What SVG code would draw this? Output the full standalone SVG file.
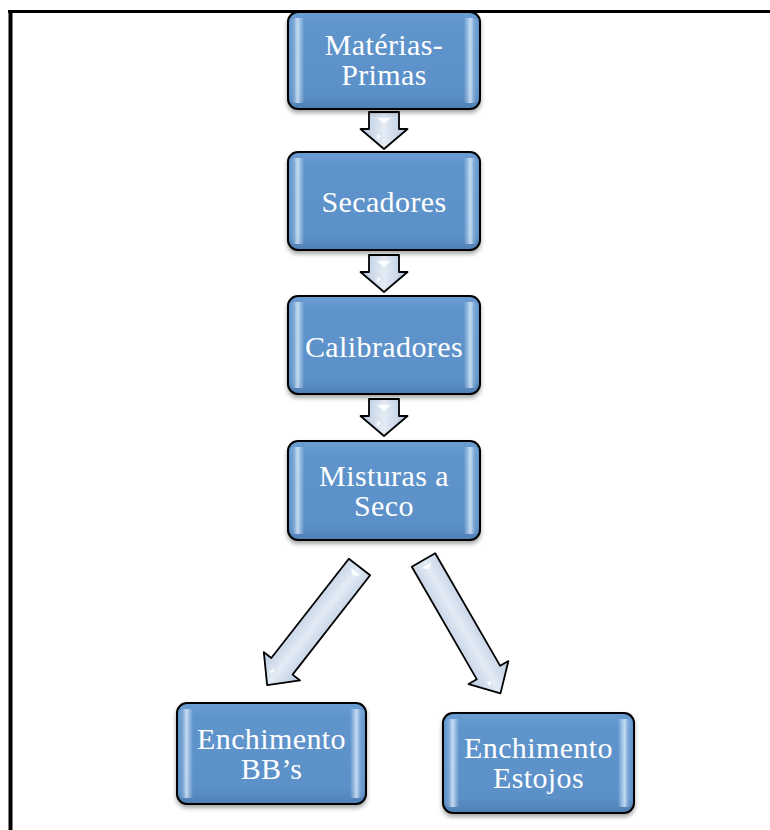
<svg xmlns="http://www.w3.org/2000/svg" width="770" height="830" viewBox="0 0 770 830">
  <style>
    .box { stroke: #000; stroke-width: 2; filter: url(#shadow); }
    .box-fill { fill: url(#boxBlue); }
    .gloss { fill: url(#boxGloss); stroke: none; }
    .label { font-family: "Liberation Serif", "Times New Roman", serif; font-size: 30px; letter-spacing: 0.4px; fill: #fff; text-anchor: middle; }
    .arrow { fill: url(#arrowFill); stroke: #000; stroke-width: 1.8; stroke-linejoin: round; }
    .spark { fill: #fff; opacity: 0.85; }
    .frame { stroke: #000; fill: none; }
  </style>
  <defs>
    <linearGradient id="boxBlue" x1="0" y1="0" x2="0" y2="1">
      <stop offset="0" stop-color="#6a9dd2"/>
      <stop offset="0.15" stop-color="#5f95cc"/>
      <stop offset="0.85" stop-color="#5b90c8"/>
      <stop offset="1" stop-color="#4f7fb4"/>
    </linearGradient>
    <linearGradient id="boxGloss" x1="0" y1="0" x2="1" y2="0">
      <stop offset="0" stop-color="#e6f2ff" stop-opacity="0"/>
      <stop offset="0.025" stop-color="#e6f2ff" stop-opacity="0.2"/>
      <stop offset="0.045" stop-color="#e6f2ff" stop-opacity="0.75"/>
      <stop offset="0.08" stop-color="#e6f2ff" stop-opacity="0"/>
      <stop offset="0.92" stop-color="#e6f2ff" stop-opacity="0"/>
      <stop offset="0.955" stop-color="#e6f2ff" stop-opacity="0.75"/>
      <stop offset="0.975" stop-color="#e6f2ff" stop-opacity="0.2"/>
      <stop offset="1" stop-color="#e6f2ff" stop-opacity="0"/>
    </linearGradient>
    <linearGradient id="arrowFill" x1="0" y1="0" x2="1" y2="0">
      <stop offset="0" stop-color="#b7c8df"/>
      <stop offset="0.5" stop-color="#e3ebf5"/>
      <stop offset="1" stop-color="#b7c8df"/>
    </linearGradient>
    <filter id="shadow" x="-10%" y="-10%" width="120%" height="130%">
      <feDropShadow dx="0" dy="3" stdDeviation="2" flood-color="#000" flood-opacity="0.35"/>
    </filter>
  </defs>

  <!-- page frame (top and left edges) -->
  <line class="frame" x1="8" y1="11.5" x2="770" y2="11.5" stroke-width="3"/>
  <line class="frame" x1="10.5" y1="10" x2="10.5" y2="830" stroke-width="4"/>

  <!-- connectors -->
  <g id="connectors">
    <g transform="translate(384,112)">
      <polygon class="arrow" points="-15,0 15,0 15,17 23.5,17 0,37 -23.5,17 -15,17"/>
      <polygon class="spark" points="-7,6 7,6 0,12"/>
      <polygon class="spark" points="-7,22 -7,28 -3,24"/>
    </g>
    <g transform="translate(384,255)">
      <polygon class="arrow" points="-15,0 15,0 15,17 23.5,17 0,37 -23.5,17 -15,17"/>
      <polygon class="spark" points="-7,6 7,6 0,12"/>
      <polygon class="spark" points="-7,22 -7,28 -3,24"/>
    </g>
    <g transform="translate(384,399)">
      <polygon class="arrow" points="-15,0 15,0 15,17 23.5,17 0,37 -23.5,17 -15,17"/>
      <polygon class="spark" points="-7,6 7,6 0,12"/>
      <polygon class="spark" points="-7,22 -7,28 -3,24"/>
    </g>
    <g transform="translate(359.5,567) rotate(38)">
      <polygon class="arrow" points="-13.5,0 13.5,0 13.5,126 23,126 0,150 -23,126 -13.5,126"/>
      <polygon class="spark" points="-6,6 6,6 0,11"/>
      <polygon class="spark" points="-6,133 -6,139 -2,135"/>
    </g>
    <g transform="translate(423.5,560) rotate(-30)">
      <polygon class="arrow" points="-13.5,0 13.5,0 13.5,130 23,130 0,154 -23,130 -13.5,130"/>
      <polygon class="spark" points="-6,6 6,6 0,11"/>
      <polygon class="spark" points="-6,137 -6,143 -2,139"/>
    </g>
  </g>

  <!-- process steps -->
  <g id="materias-primas">
    <rect class="box box-fill" x="288" y="12" width="192" height="97" rx="10"/>
    <rect class="gloss" x="289" y="18" width="190" height="85" rx="6"/>
    <text class="label" x="384" y="55">Matérias-</text>
    <text class="label" x="384" y="85">Primas</text>
  </g>

  <g id="secadores">
    <rect class="box box-fill" x="288" y="152" width="192" height="98" rx="10"/>
    <rect class="gloss" x="289" y="158" width="190" height="86" rx="6"/>
    <text class="label" x="384" y="212">Secadores</text>
  </g>

  <g id="calibradores">
    <rect class="box box-fill" x="288" y="296" width="192" height="98" rx="10"/>
    <rect class="gloss" x="289" y="302" width="190" height="86" rx="6"/>
    <text class="label" x="384" y="357">Calibradores</text>
  </g>

  <g id="misturas-a-seco">
    <rect class="box box-fill" x="288" y="441" width="192" height="99" rx="10"/>
    <rect class="gloss" x="289" y="447" width="190" height="87" rx="6"/>
    <text class="label" x="384" y="486">Misturas a</text>
    <text class="label" x="384" y="516">Seco</text>
  </g>

  <g id="enchimento-bbs">
    <rect class="box box-fill" x="177" y="703" width="189" height="101" rx="10"/>
    <rect class="gloss" x="178" y="709" width="187" height="89" rx="6"/>
    <text class="label" x="271.5" y="749">Enchimento</text>
    <text class="label" x="271.5" y="779">BB’s</text>
  </g>

  <g id="enchimento-estojos">
    <rect class="box box-fill" x="443" y="713" width="191" height="100" rx="10"/>
    <rect class="gloss" x="444" y="719" width="189" height="88" rx="6"/>
    <text class="label" x="538.5" y="758">Enchimento</text>
    <text class="label" x="538.5" y="788">Estojos</text>
  </g>
</svg>
